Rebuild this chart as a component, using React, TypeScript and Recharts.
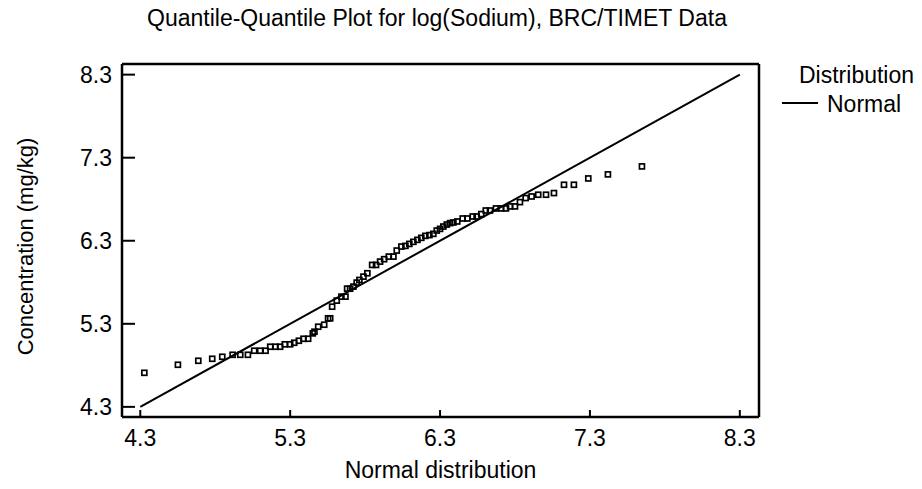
import React from "react";
import { ScatterChart, Scatter, XAxis, YAxis, Legend } from "recharts";

// theoretical normal quantiles (x) and sorted log(Sodium) values (y)
const normalQuantiles = [
  4.327, 4.551, 4.687, 4.78, 4.847, 4.916, 4.967, 5.018, 5.06, 5.1,
  5.136, 5.167, 5.202, 5.233, 5.264, 5.3, 5.327, 5.358, 5.389, 5.42,
  5.451, 5.462, 5.487, 5.527, 5.553, 5.567, 5.58, 5.611, 5.642, 5.669,
  5.68, 5.7, 5.722, 5.744, 5.762, 5.789, 5.815, 5.847, 5.873, 5.9,
  5.927, 5.958, 5.989, 6.011, 6.042, 6.069, 6.095, 6.122, 6.149, 6.175,
  6.202, 6.229, 6.255, 6.278, 6.3, 6.322, 6.345, 6.367, 6.389, 6.415,
  6.451, 6.482, 6.518, 6.544, 6.575, 6.605, 6.633, 6.673, 6.707, 6.74,
  6.767, 6.8, 6.833, 6.871, 6.911, 6.955, 7.007, 7.06, 7.127, 7.193,
  7.289, 7.42, 7.647,
];

const logSodium = [
  4.71, 4.807, 4.855, 4.879, 4.903, 4.927, 4.927, 4.927, 4.976, 4.976,
  4.976, 5.024, 5.024, 5.024, 5.053, 5.053, 5.072, 5.096, 5.12, 5.12,
  5.185, 5.205, 5.265, 5.289, 5.366, 5.366, 5.506, 5.579, 5.627, 5.627,
  5.723, 5.723, 5.748, 5.796, 5.828, 5.868, 5.909, 6.009, 6.009, 6.049,
  6.078, 6.109, 6.109, 6.182, 6.23, 6.238, 6.262, 6.287, 6.311, 6.335,
  6.359, 6.368, 6.383, 6.423, 6.443, 6.471, 6.495, 6.512, 6.52, 6.532,
  6.568, 6.568, 6.592, 6.592, 6.621, 6.664, 6.664, 6.689, 6.689, 6.689,
  6.713, 6.713, 6.765, 6.814, 6.833, 6.854, 6.854, 6.874, 6.974, 6.974,
  7.05, 7.099, 7.195,
];

const fitX = [4.3, 8.3];
const fitY = [4.3, 8.3];

const axisTicks = [4.3, 5.3, 6.3, 7.3, 8.3];
const axisDomain = [4.178, 8.428];

const points = normalQuantiles.map((x, i) => ({ x, y: logSodium[i] }));
const fitLine = fitX.map((x, i) => ({ x, y: fitY[i] }));

const FONT = "'Liberation Sans', Arial, sans-serif";
const tickStyle = { fill: "#000", fontSize: 23, fontFamily: FONT };
const fmt = (v: number) => v.toFixed(1);

const SquareDot = (props: any) => {
  const { cx, cy } = props;
  if (cx == null || cy == null) return <g />;
  return (
    <rect
      x={cx - 2.5}
      y={cy - 2.5}
      width={5}
      height={5}
      fill="none"
      stroke="#000"
      strokeWidth={1.7}
    />
  );
};

const LegendBox = () => (
  <div style={{ fontFamily: FONT, fontSize: 23, color: "#000", position: "relative", width: 140, height: 60 }}>
    <div style={{ position: "absolute", left: 19, top: 2, lineHeight: "23px" }}>Distribution</div>
    <div style={{ position: "absolute", left: 2, top: 40, width: 36, borderTop: "2px solid #000" }} />
    <div style={{ position: "absolute", left: 47, top: 31, lineHeight: "23px" }}>Normal</div>
  </div>
);

export default function App() {
  return (
    <div style={{ position: "absolute", left: 0, top: 0, width: 922, height: 489, background: "#fff" }}>
      <div
        style={{
          position: "absolute",
          left: 0,
          top: 7,
          width: 874,
          textAlign: "center",
          fontFamily: FONT,
          fontSize: 23,
          lineHeight: "23px",
          color: "#000",
        }}
      >
        Quantile-Quantile Plot for log(Sodium), BRC/TIMET Data
      </div>
      <ScatterChart
        width={922}
        height={489}
        margin={{ top: 63, right: 162, bottom: 32, left: 62 }}
      >
        <XAxis
          xAxisId="b"
          type="number"
          dataKey="x"
          orientation="bottom"
          domain={axisDomain}
          ticks={axisTicks}
          allowDataOverflow
          height={40}
          tickSize={-7}
          tickMargin={20}
          tickFormatter={fmt}
          tick={tickStyle}
          axisLine={{ stroke: "#000", strokeWidth: 2.5 }}
          tickLine={{ stroke: "#000", strokeWidth: 2 }}
          label={{
            content: (p: any) => {
              const vb = p.viewBox || {};
              return (
                <text
                  x={vb.x + vb.width / 2}
                  y={vb.y + vb.height + 21}
                  textAnchor="middle"
                  fontFamily={FONT}
                  fontSize={23}
                  fill="#000"
                >
                  Normal distribution
                </text>
              );
            },
          }}
        />
        <XAxis
          xAxisId="t"
          type="number"
          dataKey="x"
          orientation="top"
          domain={axisDomain}
          ticks={axisTicks}
          allowDataOverflow
          height={1}
          tickSize={-7}
          tick={false}
          axisLine={{ stroke: "#000", strokeWidth: 2.5 }}
          tickLine={{ stroke: "#000", strokeWidth: 2 }}
        />
        <YAxis
          yAxisId="l"
          type="number"
          dataKey="y"
          orientation="left"
          domain={axisDomain}
          ticks={axisTicks}
          allowDataOverflow
          width={60}
          tickSize={-13}
          tickMargin={23}
          tickFormatter={fmt}
          tick={tickStyle}
          axisLine={{ stroke: "#000", strokeWidth: 2.5 }}
          tickLine={{ stroke: "#000", strokeWidth: 2 }}
          label={{
            content: (p: any) => {
              const vb = p.viewBox || {};
              const cx = vb.x - 29;
              const cy = vb.y + vb.height / 2 + 6;
              return (
                <text
                  x={cx}
                  y={cy}
                  transform={`rotate(-90, ${cx}, ${cy})`}
                  textAnchor="middle"
                  fontFamily={FONT}
                  fontSize={22}
                  fill="#000"
                >
                  Concentration (mg/kg)
                </text>
              );
            },
          }}
        />
        <YAxis
          yAxisId="r"
          type="number"
          dataKey="y"
          orientation="right"
          domain={axisDomain}
          ticks={axisTicks}
          allowDataOverflow
          width={1}
          tickSize={-13}
          tick={false}
          axisLine={{ stroke: "#000", strokeWidth: 2.5 }}
          tickLine={{ stroke: "#000", strokeWidth: 2 }}
        />
        <Legend
          content={<LegendBox />}
          layout="horizontal"
          verticalAlign="middle"
          align="center"
          wrapperStyle={{ position: "absolute", left: 780, top: 62, width: 140 }}
        />
        <Scatter
          name="Normal"
          xAxisId="b"
          yAxisId="l"
          data={fitLine}
          line={{ stroke: "#000", strokeWidth: 2 }}
          shape={() => <g />}
          legendType="line"
          isAnimationActive={false}
        />
        <Scatter
          name="log(Sodium)"
          xAxisId="b"
          yAxisId="l"
          data={points}
          shape={SquareDot}
          legendType="none"
          isAnimationActive={false}
        />
      </ScatterChart>
    </div>
  );
}
